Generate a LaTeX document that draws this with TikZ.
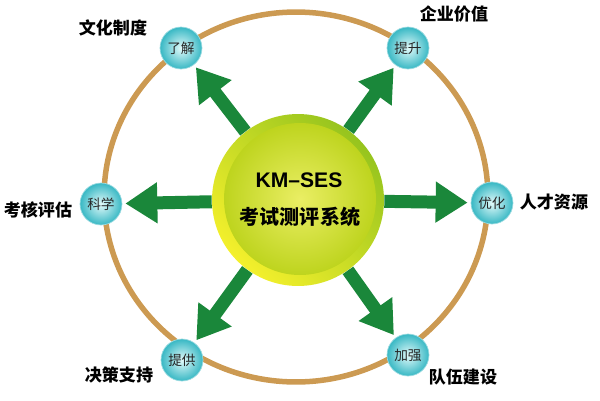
\documentclass[tikz,border=0pt]{standalone}
\usepackage{fontspec}
\newfontfamily\cjk{Noto Sans CJK SC}
\newfontfamily\latinsans{Liberation Sans}
\usetikzlibrary{arrows.meta}
\definecolor{ringbrown}{RGB}{204,154,82}
\definecolor{flowgreen}{RGB}{26,135,58}
\definecolor{ballcyan}{RGB}{56,184,196}
\definecolor{balllight}{RGB}{226,250,250}
\definecolor{hubyellow}{RGB}{244,240,44}
\definecolor{hubgreen}{RGB}{150,196,30}
\definecolor{hubinner}{RGB}{234,238,100}
\definecolor{hubouter}{RGB}{190,212,30}
\tikzset{
  ball/.style={circle, inner sep=0pt, minimum size=0.84cm, inner color=balllight, outer color=ballcyan,
    draw=ballcyan!50, line width=0.4pt, text=black!85, font=\cjk\fontsize{7.8}{8}\selectfont},
  tag/.style={inner sep=0pt, font=\cjk\bfseries\fontsize{9.7}{11}\selectfont},
  flow/.style={flowgreen, line width=0.26cm, -{Triangle[length=0.64cm, width=0.78cm]}, shorten >=0.06cm},
}
\begin{document}
\begin{tikzpicture}[x=0.02cm, y=-0.02cm]
  \useasboundingbox (0,0) rectangle (600,400);
  \draw[ringbrown, line width=0.11cm] (296,197) ellipse [x radius=3.84cm, y radius=3.7cm];

  \node[circle, inner sep=0pt, minimum size=3.44cm, top color=hubgreen, bottom color=hubyellow, shading angle=-45] (hub) at (298,200) {};
  \shade[inner color=hubinner, outer color=hubouter] (300,199) circle [radius=1.52cm];
  \node[font=\latinsans\bfseries\fontsize{12}{14}\selectfont] (title) at (299,180) {KM–SES};
  \node[font=\cjk\bfseries\fontsize{11.4}{13}\selectfont] (subtitle) at (300,217) {考试测评系统};

  \node[ball] (liaojie) at (181,48) {了解};
  \node[ball] (tisheng) at (408,48) {提升};
  \node[ball] (kexue) at (101,204) {科学};
  \node[ball] (youhua) at (492,203) {优化};
  \node[ball] (tigong) at (182,360) {提供};
  \node[ball] (jiaqiang) at (408,355) {加强};

  \node[tag] (wenhua) at (113,28) {文化制度};
  \node[tag] (qiye) at (454,14) {企业价值};
  \node[tag] (kaohe) at (38,210) {考核评估};
  \node[tag] (rencai) at (554,202) {人才资源};
  \node[tag] (juece) at (119,375) {决策支持};
  \node[tag] (duiwu) at (463,377) {队伍建设};

  \draw[flow] (hub) -- (liaojie);
  \draw[flow] (hub) -- (tisheng);
  \draw[flow] (hub) -- (kexue);
  \draw[flow] (hub) -- (youhua);
  \draw[flow] (hub) -- (tigong);
  \draw[flow] (hub) -- (jiaqiang);
\end{tikzpicture}
\end{document}
